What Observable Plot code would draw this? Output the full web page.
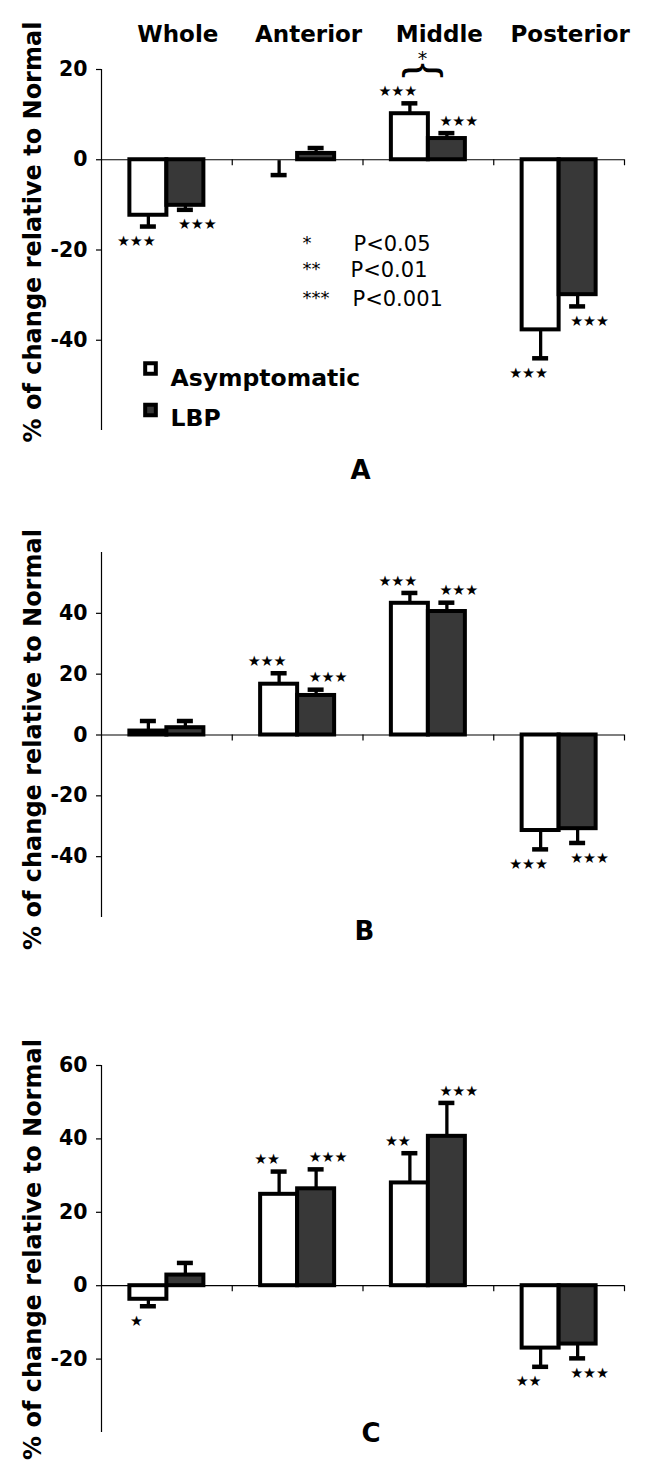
<!DOCTYPE html>
<html><head><meta charset="utf-8">
<script src="https://cdn.jsdelivr.net/npm/d3@7"></script>
<script src="https://cdn.jsdelivr.net/npm/@observablehq/plot@0.6"></script>
<style>
html,body{margin:0;padding:0;background:#fff;}
#chart{width:651px;}
#chart svg{display:block;}
</style></head><body><div id="chart"></div>
<script>
// ---------- data ----------
const categories = ["Whole", "Anterior", "Middle", "Posterior"];
const series = ["Asymptomatic", "LBP"];
const panelLetters = ["A", "B", "C"];
const yLabel = "% of change relative to Normal";

// Panel A
const asymA = [-12.3, -0.2, 10.2, -37.7];
const asymErrA = [2.5, 3.2, 2.3, 6.3];
const lbpA = [-10.1, 1.4, 4.7, -29.9];
const lbpErrA = [1.0, 1.2, 1.2, 2.6];
const asymSigA = ["***", "", "***", "***"];
const lbpSigA = ["***", "", "***", "***"];
// Panel B
const asymB = [1.3, 16.7, 43.3, -31.4];
const asymErrB = [3.3, 3.6, 3.4, 6.2];
const lbpB = [2.4, 13.0, 40.6, -30.8];
const lbpErrB = [2.2, 1.9, 2.9, 4.7];
const asymSigB = ["", "***", "***", "***"];
const lbpSigB = ["", "***", "***", "***"];
// Panel C
const asymC = [-3.7, 24.9, 28.0, -17.0];
const asymErrC = [1.9, 6.2, 8.1, 5.1];
const lbpC = [2.9, 26.4, 40.7, -15.9];
const lbpErrC = [3.3, 5.3, 9.1, 3.9];
const asymSigC = ["*", "**", "**", "**"];
const lbpSigC = ["", "***", "***", "***"];

const yDomainA = [-60, 20], yTicksA = [20, 0, -20, -40];
const yDomainB = [-60, 60], yTicksB = [40, 20, 0, -20, -40];
const yDomainC = [-40, 60], yTicksC = [60, 40, 20, 0, -20];

const pLegendStars = ["*", "**", "***"];
const pLegendText = ["P<0.05", "P<0.01", "P<0.001"];
const bracketCategory = "Middle";
const bracketStar = "*";

// ---------- layout ----------
const W = 651, ML = 101, MR = 27;
const BW = (W - ML - MR) / categories.length;
const HALF = BW / 2;
const BAR = 37, CAP = 16;
const LBP_FILL = "#383838";
const SANS = "DejaVu Sans";
const offs = {[series[0]]: -BAR / 2, [series[1]]: BAR / 2};

function buildRows(asym, asymErr, asymSig, lbp, lbpErr, lbpSig) {
  const out = [];
  categories.forEach((c, i) => {
    [[series[0], asym, asymErr, asymSig], [series[1], lbp, lbpErr, lbpSig]].forEach(([s, v, e, g]) => {
      const value = v[i], err = e[i], dir = value < 0 ? -1 : 1;
      out.push({category: c, series: s, value, err, end: value + dir * err, sig: g[i], dir});
    });
  });
  return out;
}
const starText = (s) => s.split("").map(() => "\u2605").join("");

function panel({data, height, mt, mb, domain, ticks, letter, letterPos, labelCY, extra = []}) {
  const at = (tx, ty) => ({frameAnchor: "top-left", dx: tx - ML, dy: ty - mt});
  const marks = [];
  // axes lines
  marks.push(Plot.ruleY([0], {stroke: "#000", strokeWidth: 1.2}));
  marks.push(Plot.ruleX([categories[0]], {x: d => d, dx: -HALF, stroke: "#000", strokeWidth: 1.2}));
  marks.push(Plot.ruleX(categories, {x: d => d, y1: () => 0, y2: () => 0, dx: HALF, insetBottom: -6, stroke: "#000", strokeWidth: 1.2}));
  marks.push(Plot.axisY({ticks, tickSize: 5, tickPadding: 9, tickFormat: d => String(d), fontSize: 20.5, fontWeight: "bold", fontFamily: SANS, label: null, stroke: "#000", strokeWidth: 1.2}));
  // bars
  series.forEach((s, si) => {
    const rows = data.filter(d => d.series === s);
    const off = offs[s];
    marks.push(Plot.ruleX(rows, {x: "category", y1: "value", y2: "end", dx: off, stroke: "#000", strokeWidth: 3.3}));
    marks.push(Plot.tickY(rows, {x: "category", y: "end", stroke: "#000", strokeWidth: 4.5,
      insetLeft: HALF + off - CAP / 2, insetRight: HALF - off - CAP / 2}));
    marks.push(Plot.barY(rows.filter(d => Math.abs(d.value) > 0.25), {
      x: "category", y1: () => 0, y2: "value",
      fill: si === 0 ? "#fff" : LBP_FILL, stroke: "#000", strokeWidth: 4, strokeLinejoin: "miter",
      insetLeft: si === 0 ? HALF - BAR : HALF, insetRight: si === 0 ? HALF : HALF - BAR
    }));
    for (const sgn of [1, -1]) {
      marks.push(Plot.text(rows.filter(d => d.dir === sgn && d.sig), {
        x: "category", y: "end", text: d => starText(d.sig),
        dx: off + (si === 0 ? -12 : 12), dy: sgn > 0 ? -12 : 15,
        fontSize: 14.5, fontFamily: SANS, fill: "#000"
      }));
    }
  });
  // y label
  marks.push(Plot.text([yLabel], {...at(40, labelCY), rotate: -90, lineAnchor: "bottom", textAnchor: "middle",
    fontSize: 24, fontWeight: "bold", fontFamily: SANS, fill: "#000"}));
  // panel letter
  marks.push(Plot.text([letter], {...at(letterPos[0], letterPos[1]), fontSize: 26, fontWeight: "bold", fontFamily: SANS, fill: "#000"}));
  marks.push(...extra.map(f => f(at)));
  return Plot.plot({
    width: W, height, marginLeft: ML, marginRight: MR, marginTop: mt, marginBottom: mb,
    x: {type: "band", domain: categories, paddingInner: 0, paddingOuter: 0, round: false, axis: null},
    y: {domain, round: false},
    style: {fontFamily: SANS, background: "#fff", color: "#000", overflow: "visible"},
    marks
  });
}

const extraA = [
  () => Plot.text(categories, {x: d => d, frameAnchor: "top", dy: -28, dx: 11, lineAnchor: "bottom",
    fontSize: 23, fontWeight: "bold", fontFamily: SANS, fill: "#000"}),
  () => Plot.text(["{"], {x: () => bracketCategory, frameAnchor: "top", dy: 1, dx: 15, rotate: 90,
    fontSize: 45, fontFamily: "Liberation Sans", fill: "#000"}),
  () => Plot.text([bracketStar], {x: () => bracketCategory, frameAnchor: "top", dy: -18, dx: -6, lineAnchor: "top",
    fontSize: 19, fontFamily: SANS, fill: "#000"}),
  ...pLegendStars.map((s, i) => (at) => Plot.text([s], {...at(302, [235.5, 262, 290.5][i]), textAnchor: "start",
    fontSize: 18, fontFamily: SANS, fill: "#000"})),
  ...pLegendText.map((s, i) => (at) => Plot.text([s], {...at([353, 350, 352][i], [235.5, 262, 290.5][i]), textAnchor: "start",
    fontSize: 21, fontFamily: SANS, fill: "#000"})),
  (at) => Plot.dot([series[0]], {...at(150, 368), symbol: "square", r: 6, fill: "#fff", stroke: "#000", strokeWidth: 4}),
  (at) => Plot.dot([series[1]], {...at(150, 409.5), symbol: "square", r: 6, fill: LBP_FILL, stroke: "#000", strokeWidth: 4}),
  (at) => Plot.text([series[0]], {...at(170, 369), textAnchor: "start", fontSize: 23.5, fontWeight: "bold", fontFamily: SANS, fill: "#000"}),
  (at) => Plot.text([series[1]], {...at(170, 409), textAnchor: "start", fontSize: 23.5, fontWeight: "bold", fontFamily: SANS, fill: "#000"})
];

const chart = document.getElementById("chart");
chart.append(panel({data: buildRows(asymA, asymErrA, asymSigA, lbpA, lbpErrA, lbpSigA), height: 480, mt: 69, mb: 50,
  domain: yDomainA, ticks: yTicksA, letter: panelLetters[0], letterPos: [350, 460], labelCY: 231.5, extra: extraA}));
chart.append(panel({data: buildRows(asymB, asymErrB, asymSigB, lbpB, lbpErrB, lbpSigB), height: 480, mt: 72, mb: 43,
  domain: yDomainB, ticks: yTicksB, letter: panelLetters[1], letterPos: [354, 441], labelCY: 259}));
chart.append(panel({data: buildRows(asymC, asymErrC, asymSigC, lbpC, lbpErrC, lbpSigC), height: 510, mt: 105, mb: 38,
  domain: yDomainC, ticks: yTicksC, letter: panelLetters[2], letterPos: [361, 463.5], labelCY: 289}));
</script>
</body></html>
